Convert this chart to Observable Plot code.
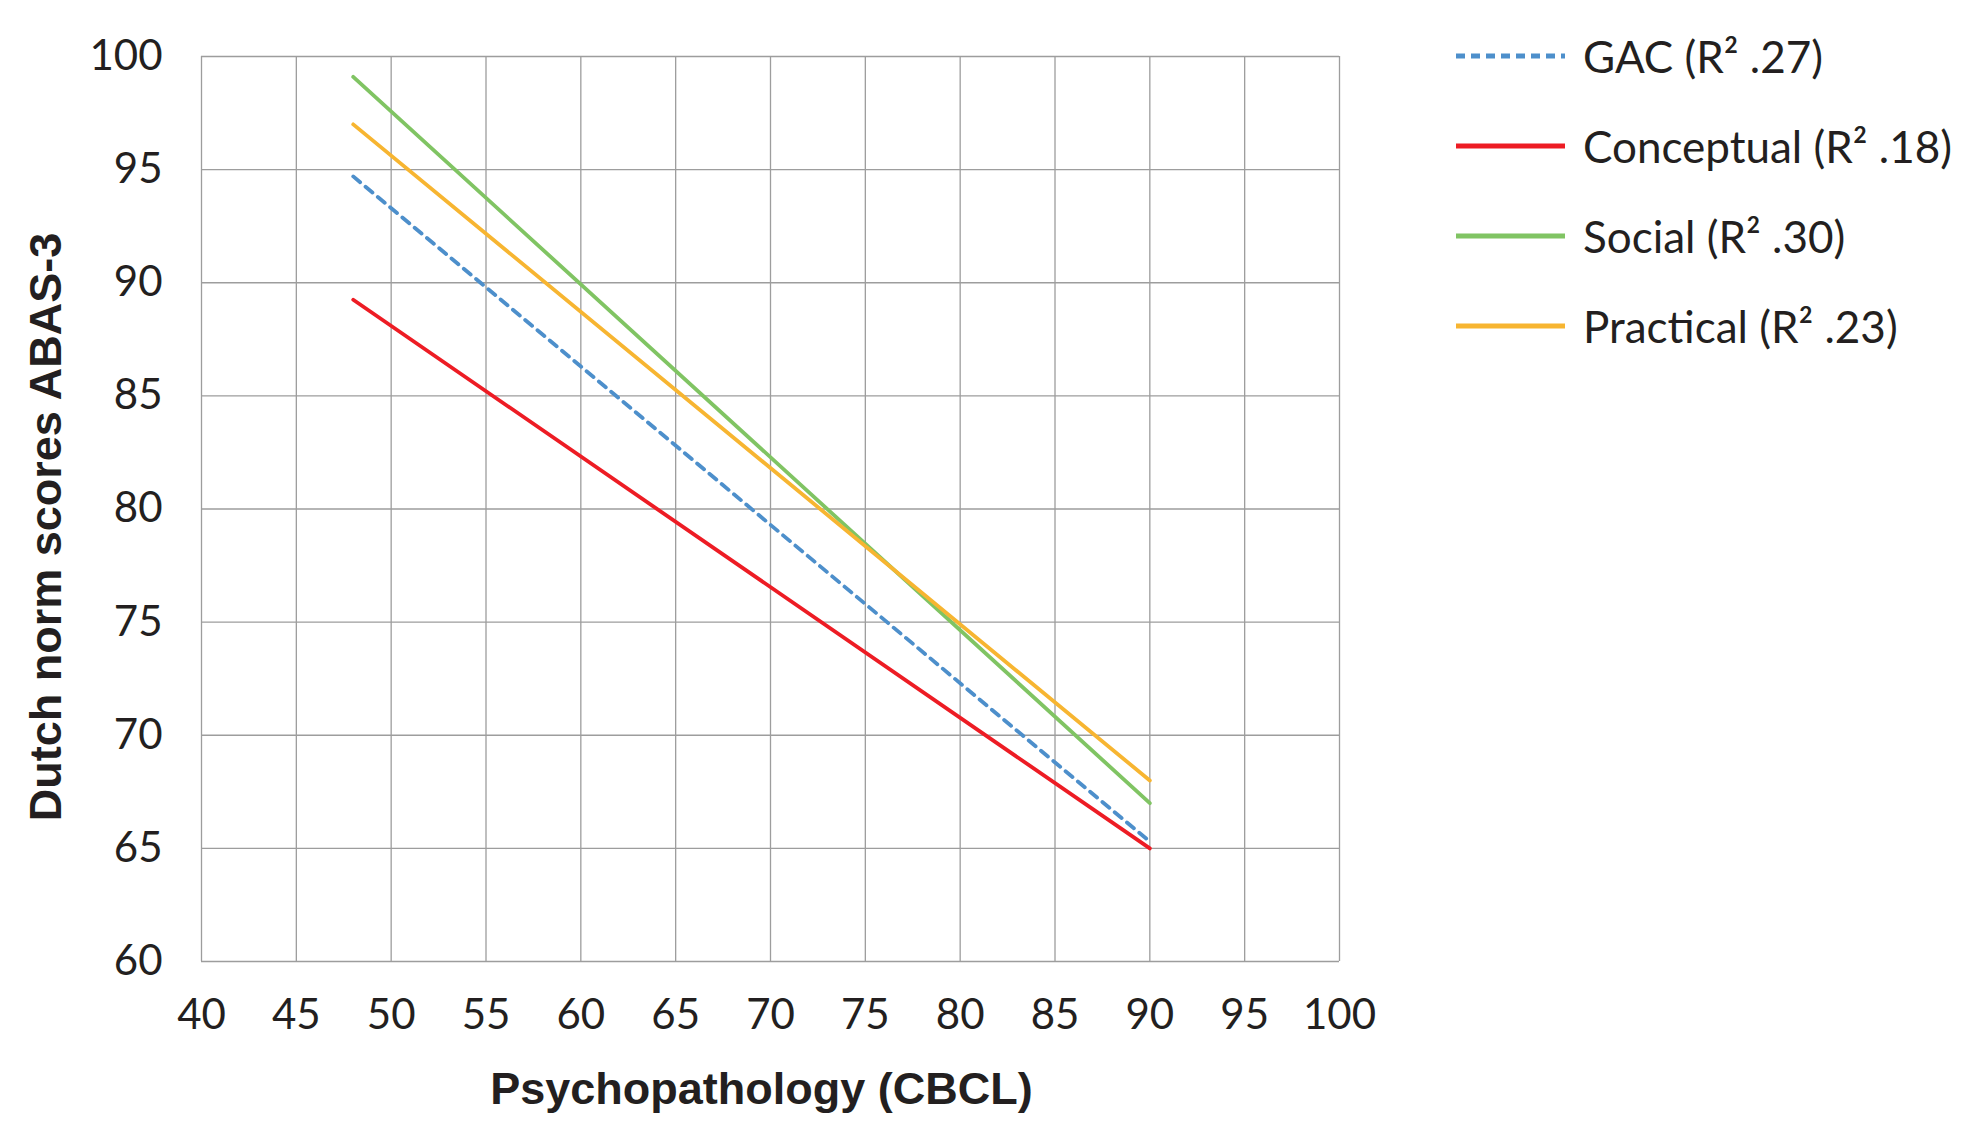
<!DOCTYPE html>
<html>
<head>
<meta charset="utf-8">
<script src="https://cdn.jsdelivr.net/npm/d3@7"></script>
<script src="https://cdn.jsdelivr.net/npm/@observablehq/plot@0.6"></script>
<style>
  html, body { margin: 0; padding: 0; background: #fff; overflow: hidden; }
  #wrap { position: relative; width: 1974px; height: 1121px; font-family: Lato, "Open Sans", sans-serif; color: #231f20; }
  #chart { position: absolute; left: 0; top: 0; }
  #legend { position: absolute; left: 1456px; top: 11px; }
  .row { display: flex; align-items: center; height: 90px; }
  .row svg { margin-right: 18px; }
  .row span { font-size: 44px; white-space: nowrap; line-height: 1; }
</style>
</head>
<body>
<div id="wrap">
  <div id="chart"></div>
  <div id="legend"></div>
</div>
<script>
// ---- data ----
const seriesNames = ["GAC (R\u00B2 .27)", "Conceptual (R\u00B2 .18)", "Social (R\u00B2 .30)", "Practical (R\u00B2 .23)"];
const seriesColors = ["#4d8fcb", "#ed1c24", "#80c463", "#f7b531"];
const seriesDash = ["9,7", null, null, null];
const xPoints = [48, 90];
const gacValues = [94.7, 65.3];
const conceptualValues = [89.25, 65.0];
const socialValues = [99.1, 67.0];
const practicalValues = [97.0, 68.0];
const xTicks = [40, 45, 50, 55, 60, 65, 70, 75, 80, 85, 90, 95, 100];
const yTicks = [60, 65, 70, 75, 80, 85, 90, 95, 100];
const xLabel = "Psychopathology (CBCL)";
const yLabel = "Dutch norm scores ABAS-3";

const allValues = [gacValues, conceptualValues, socialValues, practicalValues];
const rows = [];
seriesNames.forEach((s, i) => {
  xPoints.forEach((x, j) => rows.push({series: s, x, y: allValues[i][j]}));
});

const gridColor = "#9d9d9d";
const lineMarks = seriesNames.map((s, i) =>
  Plot.line(rows.filter(d => d.series === s), {
    x: "x", y: "y",
    stroke: seriesColors[i],
    strokeWidth: 3.8,
    strokeDasharray: seriesDash[i] || undefined
  })
);

const labelFont = "'Liberation Sans', Arial, sans-serif";

const chart = Plot.plot({
  width: 1440,
  height: 1121,
  marginLeft: 201,
  marginRight: 101,
  marginTop: 56,
  marginBottom: 160,
  style: {fontFamily: "Lato, 'Open Sans', sans-serif", fontSize: "42px", color: "#231f20", background: "#fff"},
  x: {domain: [40, 100]},
  y: {domain: [60, 100]},
  marks: [
    Plot.gridX(xTicks, {stroke: gridColor, strokeOpacity: 1, strokeWidth: 1.3}),
    Plot.gridY(yTicks, {stroke: gridColor, strokeOpacity: 1, strokeWidth: 1.3}),
    Plot.axisX(xTicks, {tickSize: 0, tickPadding: 38, label: null, fontSize: 42}),
    Plot.axisY(yTicks, {tickSize: 0, tickPadding: 39, label: null, fontSize: 42}),
    ...lineMarks,
    Plot.text([xLabel], {frameAnchor: "bottom", lineAnchor: "top", textAnchor: "middle", dx: -9, dy: 111, fontWeight: "bold", fontSize: 45, fontFamily: labelFont, fill: "#231f20"}),
    Plot.text([yLabel], {frameAnchor: "left", textAnchor: "middle", rotate: -90, dx: -155, dy: 18, fontWeight: "bold", fontSize: 45, fontFamily: labelFont, fill: "#231f20"})
  ]
});
document.getElementById("chart").appendChild(chart);

// ---- legend ----
const legend = document.getElementById("legend");
seriesNames.forEach((s, i) => {
  const row = document.createElement("div");
  row.className = "row";
  const ns = "http://www.w3.org/2000/svg";
  const svg = document.createElementNS(ns, "svg");
  svg.setAttribute("width", 109);
  svg.setAttribute("height", 10);
  const ln = document.createElementNS(ns, "line");
  ln.setAttribute("x1", 0); ln.setAttribute("x2", 109);
  ln.setAttribute("y1", 5); ln.setAttribute("y2", 5);
  ln.setAttribute("stroke", seriesColors[i]);
  ln.setAttribute("stroke-width", 5);
  if (seriesDash[i]) ln.setAttribute("stroke-dasharray", "9,6");
  svg.appendChild(ln);
  const span = document.createElement("span");
  span.textContent = s;
  row.appendChild(svg);
  row.appendChild(span);
  legend.appendChild(row);
});
</script>
</body>
</html>
